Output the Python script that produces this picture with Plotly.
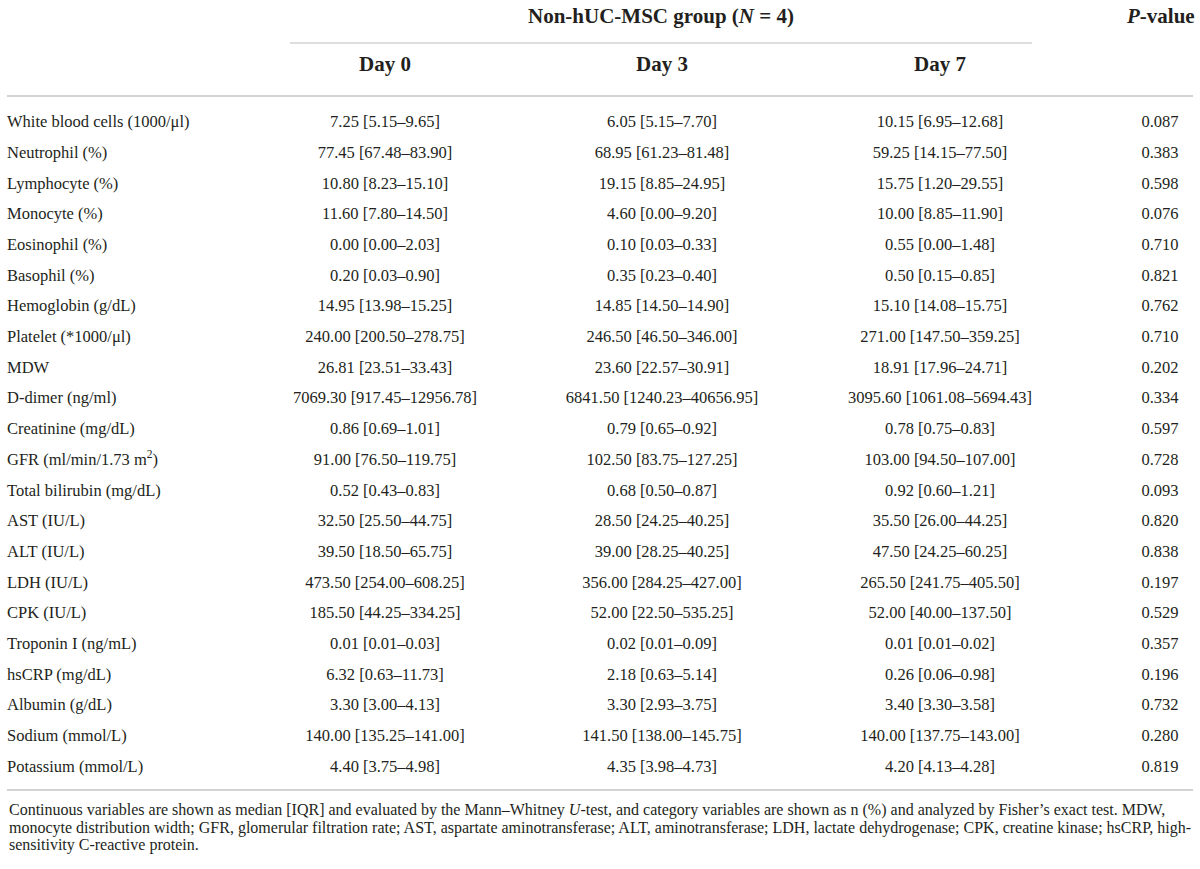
import plotly.graph_objects as go

labels = [
    "White blood cells (1000/μl)", "Neutrophil (%)", "Lymphocyte (%)", "Monocyte (%)",
    "Eosinophil (%)", "Basophil (%)", "Hemoglobin (g/dL)", "Platelet (*1000/μl)", "MDW",
    "D-dimer (ng/ml)", "Creatinine (mg/dL)", "GFR (ml/min/1.73 m<sup>2</sup>)",
    "Total bilirubin (mg/dL)", "AST (IU/L)", "ALT (IU/L)", "LDH (IU/L)", "CPK (IU/L)",
    "Troponin I (ng/mL)", "hsCRP (mg/dL)", "Albumin (g/dL)", "Sodium (mmol/L)",
    "Potassium (mmol/L)",
]
day0 = [
    "7.25 [5.15–9.65]", "77.45 [67.48–83.90]", "10.80 [8.23–15.10]", "11.60 [7.80–14.50]",
    "0.00 [0.00–2.03]", "0.20 [0.03–0.90]", "14.95 [13.98–15.25]", "240.00 [200.50–278.75]",
    "26.81 [23.51–33.43]", "7069.30 [917.45–12956.78]", "0.86 [0.69–1.01]",
    "91.00 [76.50–119.75]", "0.52 [0.43–0.83]", "32.50 [25.50–44.75]", "39.50 [18.50–65.75]",
    "473.50 [254.00–608.25]", "185.50 [44.25–334.25]", "0.01 [0.01–0.03]", "6.32 [0.63–11.73]",
    "3.30 [3.00–4.13]", "140.00 [135.25–141.00]", "4.40 [3.75–4.98]",
]
day3 = [
    "6.05 [5.15–7.70]", "68.95 [61.23–81.48]", "19.15 [8.85–24.95]", "4.60 [0.00–9.20]",
    "0.10 [0.03–0.33]", "0.35 [0.23–0.40]", "14.85 [14.50–14.90]", "246.50 [46.50–346.00]",
    "23.60 [22.57–30.91]", "6841.50 [1240.23–40656.95]", "0.79 [0.65–0.92]",
    "102.50 [83.75–127.25]", "0.68 [0.50–0.87]", "28.50 [24.25–40.25]", "39.00 [28.25–40.25]",
    "356.00 [284.25–427.00]", "52.00 [22.50–535.25]", "0.02 [0.01–0.09]", "2.18 [0.63–5.14]",
    "3.30 [2.93–3.75]", "141.50 [138.00–145.75]", "4.35 [3.98–4.73]",
]
day7 = [
    "10.15 [6.95–12.68]", "59.25 [14.15–77.50]", "15.75 [1.20–29.55]", "10.00 [8.85–11.90]",
    "0.55 [0.00–1.48]", "0.50 [0.15–0.85]", "15.10 [14.08–15.75]", "271.00 [147.50–359.25]",
    "18.91 [17.96–24.71]", "3095.60 [1061.08–5694.43]", "0.78 [0.75–0.83]",
    "103.00 [94.50–107.00]", "0.92 [0.60–1.21]", "35.50 [26.00–44.25]", "47.50 [24.25–60.25]",
    "265.50 [241.75–405.50]", "52.00 [40.00–137.50]", "0.01 [0.01–0.02]", "0.26 [0.06–0.98]",
    "3.40 [3.30–3.58]", "140.00 [137.75–143.00]", "4.20 [4.13–4.28]",
]
p_values = [
    "0.087", "0.383", "0.598", "0.076", "0.710", "0.821", "0.762", "0.710", "0.202", "0.334",
    "0.597", "0.728", "0.093", "0.820", "0.838", "0.197", "0.529", "0.357", "0.196", "0.732",
    "0.280", "0.819",
]
group_header = "Non-hUC-MSC group (<i>N</i> = 4)"
p_header = "<i>P</i>-value"
day_headers = ["Day 0", "Day 3", "Day 7"]
footnote_lines = [
    "Continuous variables are shown as median [IQR] and evaluated by the Mann–Whitney <i>U</i>-test, and category variables are shown as n (%) and analyzed by Fisher’s exact test. MDW,",
    "monocyte distribution width; GFR, glomerular filtration rate; AST, aspartate aminotransferase; ALT, aminotransferase; LDH, lactate dehydrogenase; CPK, creatine kinase; hsCRP, high-",
    "sensitivity C-reactive protein.",
]

FONT = "Liberation Serif"
TXT = "#231f20"
LINE = "#d3d3d3"
BODY = 16.5
HEAD = 21
FOOT = 16

W, H = 1200, 869
ROW0 = 123.0
ROWH = 30.7
def py(pix):
    return (pix - ROW0) / ROWH

col_x = [385, 662, 940]
p_x = 1160
label_x = 7

rows = list(range(len(labels)))
fig = go.Figure()
fig.add_trace(go.Scatter(x=[label_x] * len(labels), y=rows, text=labels, mode="text",
                         textposition="middle right", cliponaxis=False,
                         textfont=dict(family=FONT, size=BODY, color=TXT), hoverinfo="skip"))
for cx, col in zip(col_x, [day0, day3, day7]):
    fig.add_trace(go.Scatter(x=[cx] * len(col), y=rows, text=col, mode="text",
                             textposition="middle center", cliponaxis=False,
                             textfont=dict(family=FONT, size=BODY, color=TXT), hoverinfo="skip"))
fig.add_trace(go.Scatter(x=[p_x] * len(p_values), y=rows, text=p_values, mode="text",
                         textposition="middle center", cliponaxis=False,
                         textfont=dict(family=FONT, size=BODY, color=TXT), hoverinfo="skip"))

ann = []
ann.append(dict(x=661, y=py(16), text="<b>" + group_header + "</b>", showarrow=False,
                font=dict(family=FONT, size=HEAD, color=TXT), xanchor="center", yanchor="middle"))
ann.append(dict(x=p_x, y=py(16), text="<b>" + p_header + "</b>", showarrow=False,
                font=dict(family=FONT, size=HEAD, color=TXT), xanchor="center", yanchor="middle"))
for cx, t in zip(col_x, day_headers):
    ann.append(dict(x=cx, y=py(64), text="<b>" + t + "</b>", showarrow=False,
                    font=dict(family=FONT, size=HEAD, color=TXT), xanchor="center", yanchor="middle"))
for i, t in enumerate(footnote_lines):
    ann.append(dict(x=label_x, y=py(810 + i * 17.7), text=t, showarrow=False,
                    font=dict(family=FONT, size=FOOT, color=TXT), xanchor="left", yanchor="middle"))

shapes = [
    dict(type="line", x0=290, x1=1032, y0=py(43), y1=py(43), line=dict(color=LINE, width=1.5)),
    dict(type="line", x0=7, x1=1193, y0=py(96), y1=py(96), line=dict(color=LINE, width=2)),
    dict(type="line", x0=7, x1=1193, y0=py(790), y1=py(790), line=dict(color=LINE, width=2)),
]

fig.update_layout(
    width=W, height=H,
    margin=dict(l=0, r=0, t=0, b=0),
    paper_bgcolor="white", plot_bgcolor="white",
    showlegend=False,
    hovermode=False,
    xaxis=dict(range=[0, W], visible=False, fixedrange=True),
    yaxis=dict(range=[py(H), py(0)], visible=False, fixedrange=True),
    annotations=ann, shapes=shapes,
)
fig.write_html("out.html", config={"displayModeBar": False, "staticPlot": True},
               post_script="document.body.style.margin='0px';document.body.style.overflow='hidden';")
